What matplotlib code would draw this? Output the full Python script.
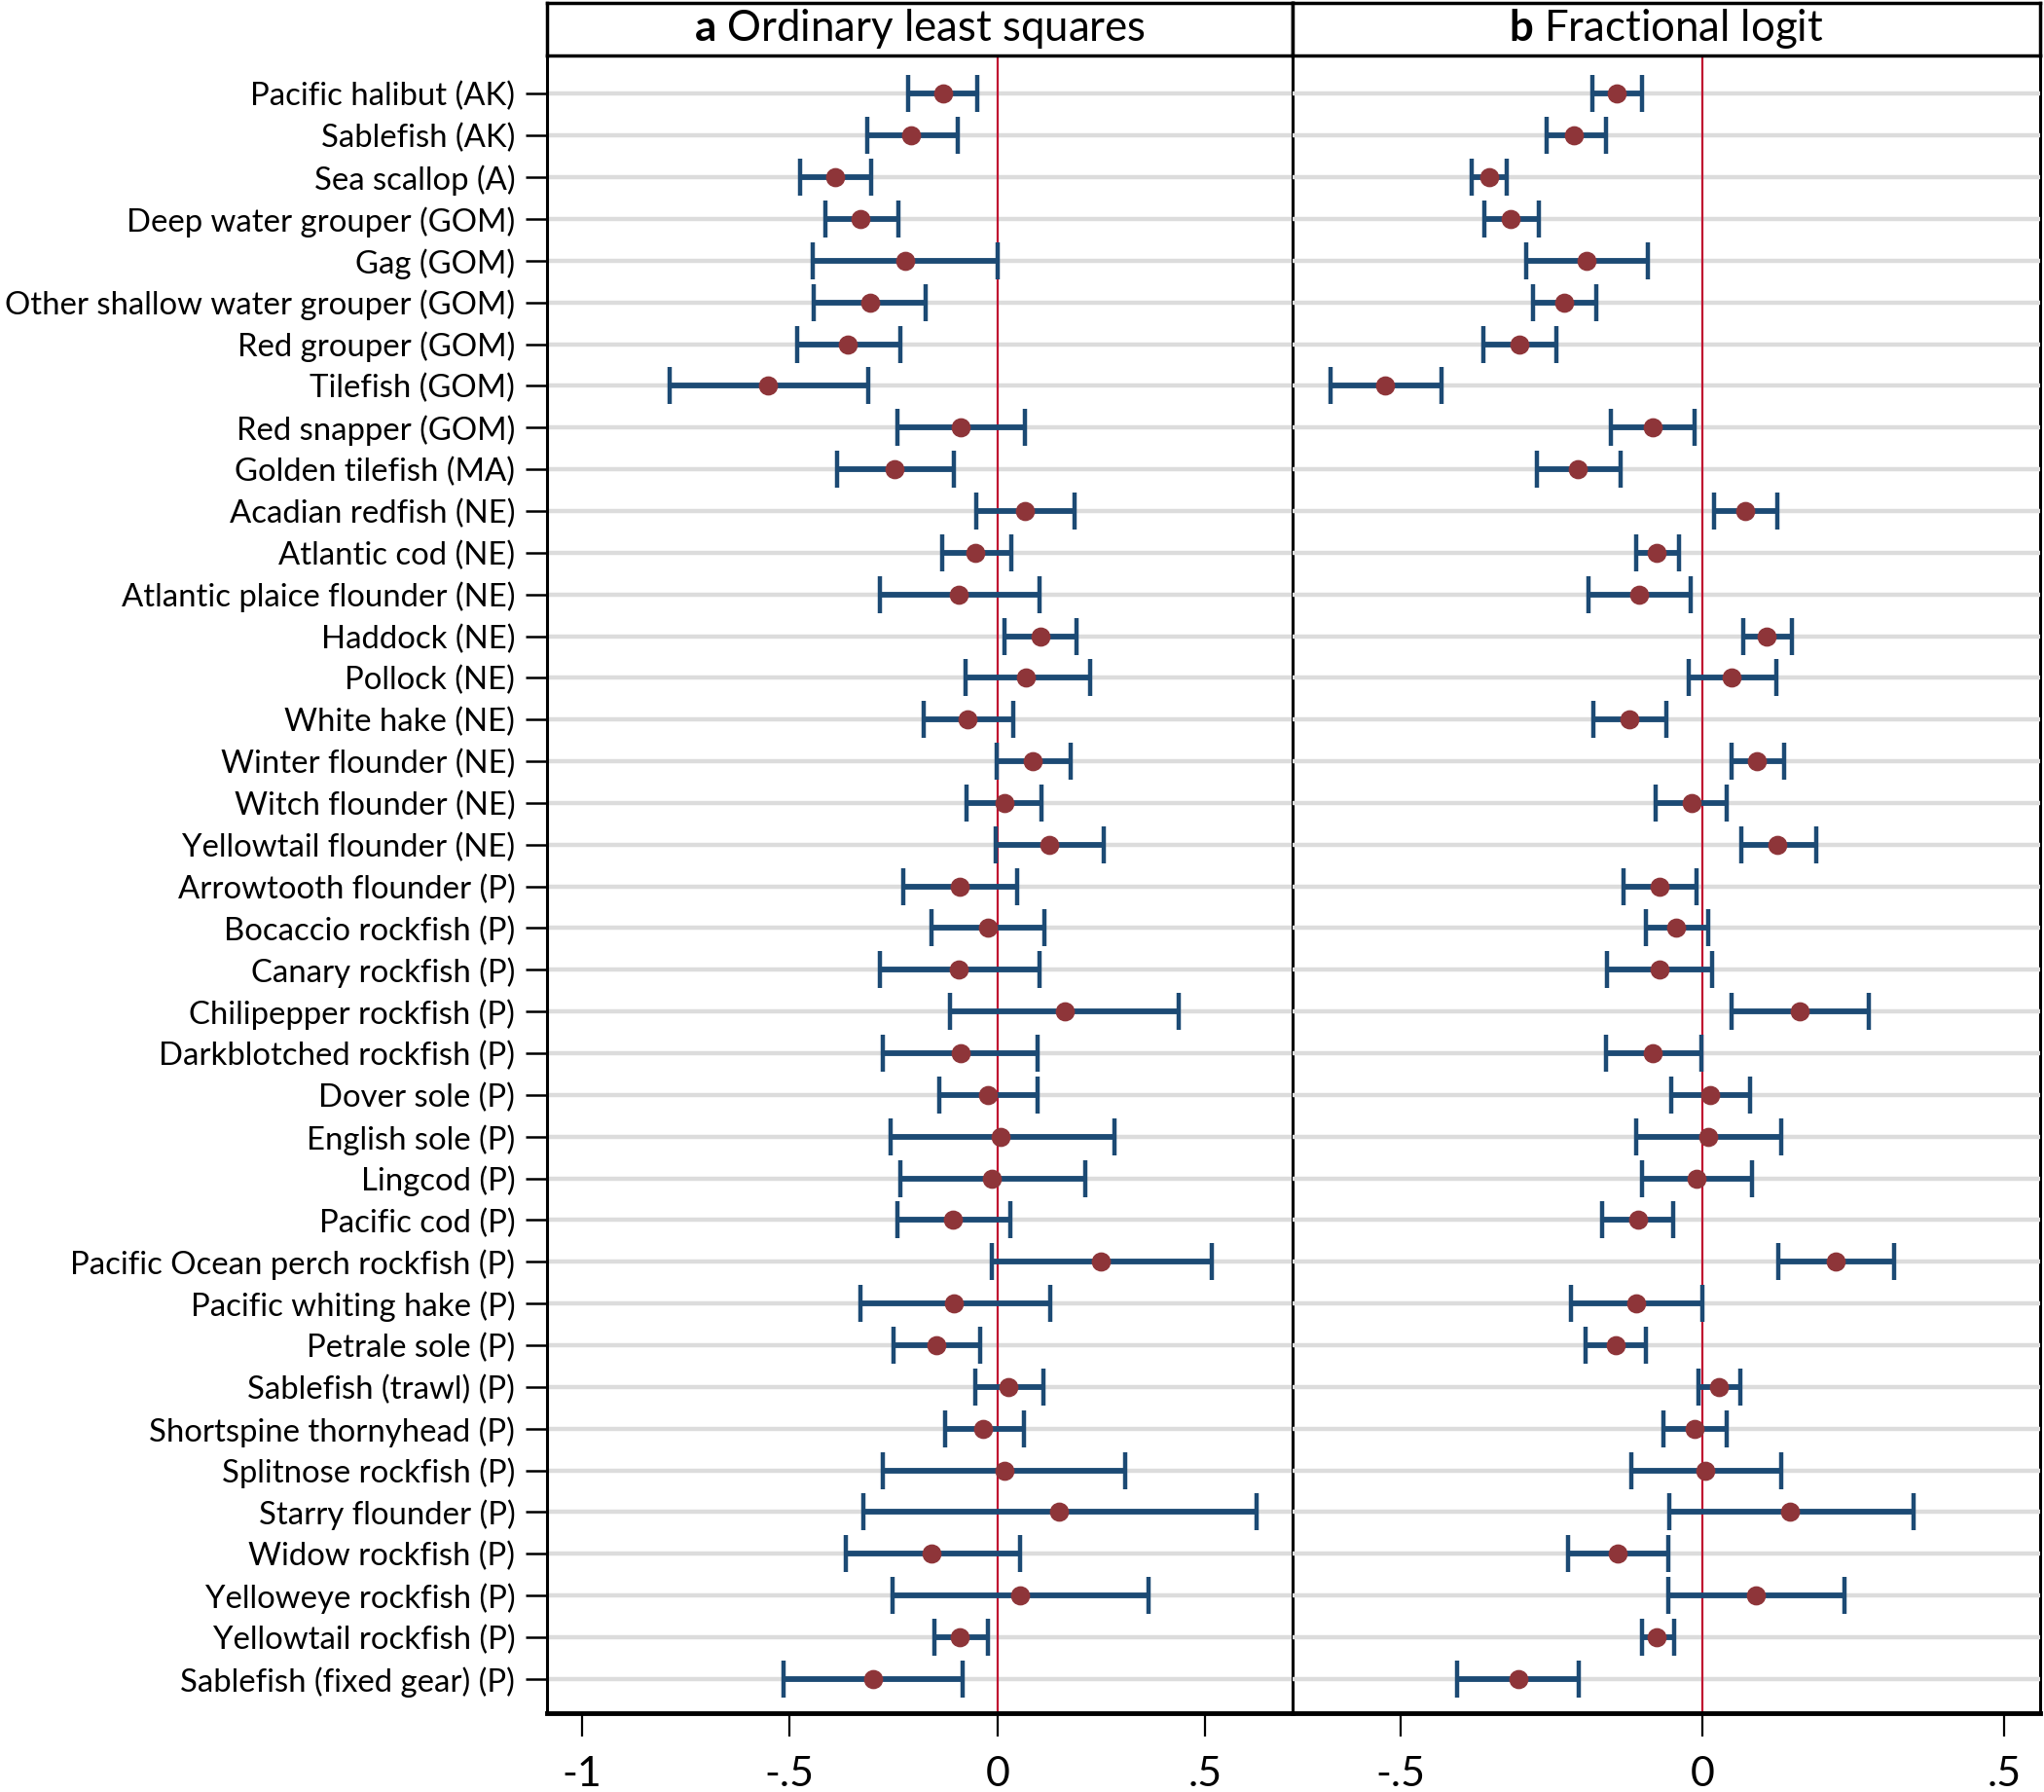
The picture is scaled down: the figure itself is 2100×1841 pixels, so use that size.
import numpy as np
import matplotlib
matplotlib.use("Agg")
import matplotlib.pyplot as plt

plt.rcParams['font.family'] = ['Lato', 'DejaVu Sans']
plt.rcParams['mathtext.fontset'] = 'custom'
plt.rcParams['mathtext.bf'] = 'Lato:bold'
plt.rcParams['mathtext.rm'] = 'Lato'

species = [
    "Pacific halibut (AK)", "Sablefish (AK)", "Sea scallop (A)",
    "Deep water grouper (GOM)", "Gag (GOM)", "Other shallow water grouper (GOM)",
    "Red grouper (GOM)", "Tilefish (GOM)", "Red snapper (GOM)",
    "Golden tilefish (MA)", "Acadian redfish (NE)", "Atlantic cod (NE)",
    "Atlantic plaice flounder (NE)", "Haddock (NE)", "Pollock (NE)",
    "White hake (NE)", "Winter flounder (NE)", "Witch flounder (NE)",
    "Yellowtail flounder (NE)", "Arrowtooth flounder (P)", "Bocaccio rockfish (P)",
    "Canary rockfish (P)", "Chilipepper rockfish (P)", "Darkblotched rockfish (P)",
    "Dover sole (P)", "English sole (P)", "Lingcod (P)", "Pacific cod (P)",
    "Pacific Ocean perch rockfish (P)", "Pacific whiting hake (P)",
    "Petrale sole (P)", "Sablefish (trawl) (P)", "Shortspine thornyhead (P)",
    "Splitnose rockfish (P)", "Starry flounder (P)", "Widow rockfish (P)",
    "Yelloweye rockfish (P)", "Yellowtail rockfish (P)", "Sablefish (fixed gear) (P)",
]

# a: ordinary least squares (estimate, lower, upper)
ols_est = [-0.130, -0.208, -0.391, -0.331, -0.223, -0.307, -0.361, -0.552, -0.088,
           -0.247, 0.067, -0.053, -0.094, 0.103, 0.069, -0.072, 0.085, 0.016,
           0.125, -0.091, -0.024, -0.094, 0.162, -0.088, -0.022, 0.007, -0.014,
           -0.108, 0.248, -0.104, -0.148, 0.025, -0.035, 0.016, 0.149, -0.158,
           0.055, -0.091, -0.300]
ols_lo = [-0.215, -0.313, -0.474, -0.415, -0.444, -0.442, -0.481, -0.789, -0.241,
          -0.385, -0.050, -0.134, -0.284, 0.016, -0.078, -0.178, -0.001, -0.074,
          -0.005, -0.227, -0.158, -0.284, -0.114, -0.275, -0.139, -0.257, -0.234,
          -0.240, -0.013, -0.331, -0.251, -0.054, -0.127, -0.275, -0.324, -0.364,
          -0.253, -0.151, -0.515]
ols_hi = [-0.048, -0.096, -0.305, -0.239, 0.000, -0.172, -0.233, -0.311, 0.067,
          -0.106, 0.186, 0.033, 0.100, 0.189, 0.222, 0.039, 0.177, 0.106,
          0.256, 0.047, 0.113, 0.100, 0.437, 0.097, 0.097, 0.281, 0.210,
          0.030, 0.515, 0.127, -0.041, 0.110, 0.063, 0.306, 0.624, 0.054,
          0.363, -0.024, -0.084]

# b: fractional logit
fl_est = [-0.142, -0.212, -0.353, -0.317, -0.192, -0.228, -0.302, -0.525, -0.082,
          -0.206, 0.071, -0.075, -0.105, 0.107, 0.049, -0.121, 0.091, -0.018,
          0.124, -0.071, -0.043, -0.071, 0.161, -0.082, 0.013, 0.009, -0.009,
          -0.107, 0.221, -0.110, -0.144, 0.028, -0.013, 0.005, 0.145, -0.140,
          0.088, -0.075, -0.304]
fl_lo = [-0.182, -0.258, -0.382, -0.361, -0.292, -0.280, -0.362, -0.615, -0.151,
         -0.274, 0.020, -0.110, -0.189, 0.067, -0.022, -0.180, 0.049, -0.077,
         0.064, -0.130, -0.093, -0.158, 0.049, -0.160, -0.052, -0.110, -0.100,
         -0.165, 0.125, -0.217, -0.193, -0.006, -0.064, -0.118, -0.054, -0.222,
         -0.056, -0.100, -0.405]
fl_hi = [-0.100, -0.159, -0.324, -0.271, -0.090, -0.175, -0.242, -0.432, -0.013,
         -0.136, 0.124, -0.039, -0.020, 0.148, 0.123, -0.060, 0.135, 0.040,
         0.188, -0.010, 0.009, 0.017, 0.276, -0.002, 0.079, 0.131, 0.083,
         -0.048, 0.317, 0.000, -0.093, 0.063, 0.040, 0.131, 0.349, -0.057,
         0.235, -0.047, -0.204]

panels = [
    ("a", "Ordinary least squares", ols_est, ols_lo, ols_hi,
     [-1, -0.5, 0, 0.5], ["-1", "-.5", "0", ".5"], (-1.084, 0.710)),
    ("b", "Fractional logit", fl_est, fl_lo, fl_hi,
     [-0.5, 0, 0.5], ["-.5", "0", ".5"], (-0.678, 0.559)),
]

W, H = 2100, 1841
fig = plt.figure(figsize=(W / 100, H / 100), dpi=100)

ypos = np.arange(1, len(species) + 1)
bar_col = '#1C4A74'
dot_col = '#8E3539'
grid_col = '#DCDCDC'

axes_px = [(562, 1328), (1328, 2096)]
top_px, bot_px, head_top = 57, 1760, 3

for k, (letter, name, est, lo, hi, ticks, tlabels, xl) in enumerate(panels):
    x0, x1 = axes_px[k]
    ax = fig.add_axes([x0 / W, (H - bot_px) / H, (x1 - x0) / W, (bot_px - top_px) / H])
    est = np.array(est); lo = np.array(lo); hi = np.array(hi)

    for y in ypos:
        ax.axhline(y, color=grid_col, lw=3.2, zorder=1)
    ax.axvline(0, color='#C01030', lw=1.6, zorder=2)
    ax.errorbar(est, ypos, xerr=[est - lo, hi - est], fmt='none',
                ecolor=bar_col, elinewidth=4.2, capsize=14, capthick=3.2, zorder=3)
    ax.plot(est, ypos, 'o', color=dot_col, ms=13.2, mec=dot_col, zorder=4)

    ax.set_xlim(*xl)
    ax.set_ylim(len(species) + 0.82, 0.08)
    ax.set_xticks(ticks)
    ax.set_xticklabels(tlabels, fontsize=31)
    ax.tick_params(axis='x', length=17, width=1.6, pad=15, direction='out')

    if k == 0:
        ax.set_yticks(ypos)
        ax.set_yticklabels(species, fontsize=23.7)
        ax.tick_params(axis='y', length=15.5, width=1.8, pad=8, direction='out')
    else:
        ax.set_yticks([])

    for side in ['top', 'left', 'right']:
        ax.spines[side].set_linewidth(2.2)
    ax.spines['bottom'].set_linewidth(3.5)
    ax.spines['top'].set_visible(False)
    ax.spines['right'].set_zorder(0.5)
    if k == 1:
        ax.spines['left'].set_zorder(0.5)

    # header strip
    hax = fig.add_axes([x0 / W, (H - top_px) / H, (x1 - x0) / W, (top_px - head_top) / H])
    hax.set_xticks([]); hax.set_yticks([])
    for s in hax.spines.values():
        s.set_linewidth(2.5)
    hax.text(0.5, 0.5, r"$\mathbf{%s}$ %s" % (letter, name), ha='center', va='center',
             fontsize=31.5, transform=hax.transAxes)

fig.savefig("out.png", dpi=100)
